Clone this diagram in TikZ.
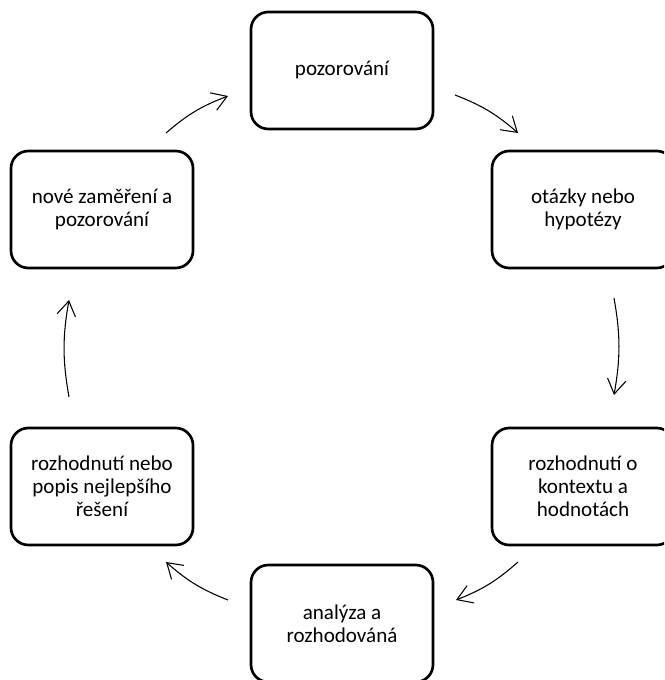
\documentclass[tikz,border=0pt]{standalone}
\usepackage{fontspec}
\setmainfont{Carlito}
\usepackage{tikz}
\usetikzlibrary{arrows.meta}

\tikzset{
	krok/.style={shape=rectangle,draw=black,line width=2pt,rounded corners=13pt,
		minimum width=136.5pt,minimum height=87.75pt,align=center,
		font=\fontsize{15.8}{17.3}\selectfont},
	cyklus/.style={line width=0.8pt,-{Straight Barb[length=11pt,width=14pt,line width=0.8pt]}}
}

\begin{document}
\begin{tikzpicture}[x=0.75pt,y=-0.75pt]
	\useasboundingbox (0,0) rectangle (664,680);
	\clip (0,0) rectangle (664,680);

	\node [krok] (Poz) at (342,70.5) {pozorování};
	\node [krok] (Ot) at (583,209.5) {otázky nebo\\hypotézy};
	\node [krok] (Kon) at (583,486.5) {rozhodnutí o\\kontextu a\\hodnotách};
	\node [krok] (An) at (342,623.5) {analýza a\\rozhodováná};
	\node [krok] (Roz) at (102,486.5) {rozhodnutí nebo\\popis nejlepšího\\řešení};
	\node [krok] (Nov) at (102,209.5) {nové zaměření a\\pozorování};

	\coordinate (Nov-o) at (166,133);
	\coordinate (Poz-i) at (228,96);
	\coordinate (Poz-o) at (455,95);
	\coordinate (Ot-i) at (518,133);
	\coordinate (Ot-o) at (614,298);
	\coordinate (Kon-i) at (614,395);
	\coordinate (Kon-o) at (518,562);
	\coordinate (An-i) at (456,600);
	\coordinate (An-o) at (228,600);
	\coordinate (Roz-i) at (166,562);
	\coordinate (Roz-o) at (69,397);
	\coordinate (Nov-i) at (69,300);

	\path [cyklus] (Nov-o) edge [bend left=10] (Poz-i);
	\path [cyklus] (Poz-o) edge [bend left=10] (Ot-i);
	\path [cyklus] (Ot-o) edge [bend left=10] (Kon-i);
	\path [cyklus] (Kon-o) edge [bend left=10] (An-i);
	\path [cyklus] (An-o) edge [bend left=10] (Roz-i);
	\path [cyklus] (Roz-o) edge [bend left=10] (Nov-i);
\end{tikzpicture}
\end{document}
